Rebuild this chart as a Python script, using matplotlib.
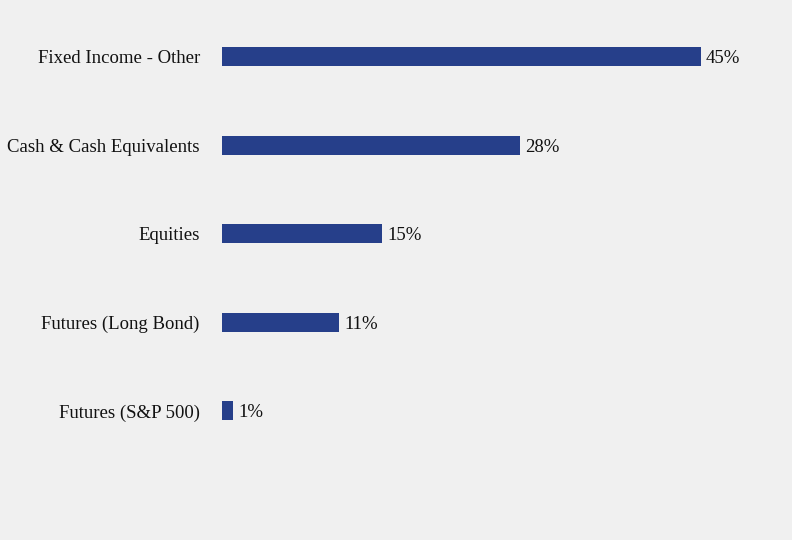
import matplotlib.pyplot as plt

# data
categories = ["Fixed Income - Other", "Cash & Cash Equivalents", "Equities",
              "Futures (Long Bond)", "Futures (S&P 500)"]
values = [45, 28, 15, 11, 1]

BG = "#f0f0f0"
BAR = "#263f8a"

plt.rcParams["font.family"] = ["Liberation Serif", "DejaVu Serif"]

fig = plt.figure(figsize=(7.92, 5.4), dpi=100, facecolor=BG)
# axes spans from the bar baseline (x=222px) to the right edge
ax = fig.add_axes([222 / 792, 0, 570 / 792, 1], facecolor=BG)

pos = list(range(len(categories)))
ax.barh(pos, values, height=0.215, color=BAR)

for y, v in zip(pos, values):
    ax.text(v + 0.5, y, f"{v}%", va="center_baseline", ha="left",
            fontsize=13.5, color="#111111")

ax.set_xlim(0, 570 / 10.64)
ax.set_ylim((540 - 56.5) / 88.6, -56.5 / 88.6)

ax.set_yticks(pos)
ax.set_yticklabels(categories, fontsize=13.5, color="#111111", va="center_baseline")
ax.tick_params(axis="y", length=0, pad=16)
ax.set_xticks([])
for s in ax.spines.values():
    s.set_visible(False)

fig.savefig("out.png", dpi=100, facecolor=BG)
